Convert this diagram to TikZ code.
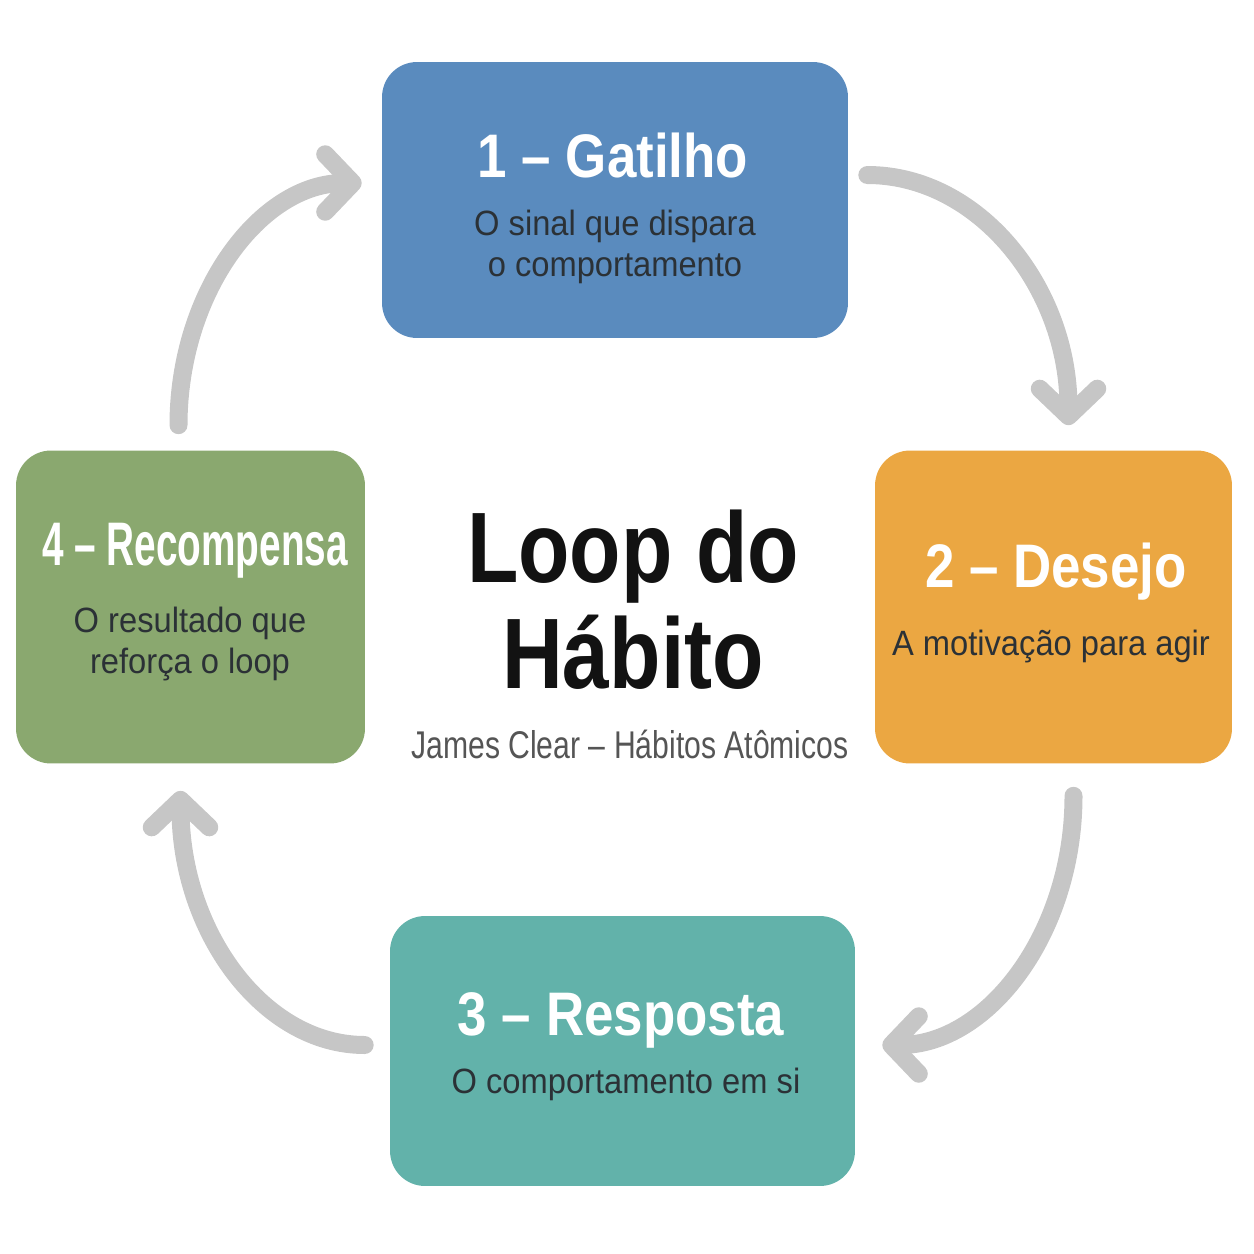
\documentclass[tikz,border=0pt]{standalone}
\usepackage{fontspec}
\setmainfont{Liberation Sans}
\newfontfamily\headfont[FakeStretch=0.86]{Liberation Sans}
\newfontfamily\narrowfont[FakeStretch=0.63]{Liberation Sans}
\newfontfamily\subfont[FakeStretch=0.93]{Liberation Sans}
\newfontfamily\bigfont[FakeStretch=0.84]{Liberation Sans}
\newfontfamily\creditfont[FakeStretch=0.78]{Liberation Sans}
\usetikzlibrary{arrows.meta,positioning}
\definecolor{gatblue}{HTML}{5A8BBE}
\definecolor{desorange}{HTML}{EBA742}
\definecolor{resteal}{HTML}{62B2AA}
\definecolor{recgreen}{HTML}{8AA86F}
\definecolor{arrowgray}{HTML}{C6C6C6}
\definecolor{subgray}{HTML}{2B3136}
\definecolor{creditgray}{HTML}{555555}

\begin{document}
\begin{tikzpicture}[
  x=0.02cm,y=-0.02cm,
  box/.style={rounded corners=0.7cm,inner sep=0pt},
  head/.style={anchor=base,text=white,font=\headfont\bfseries\fontsize{35}{40}\selectfont},
  sub/.style={anchor=base,align=center,text=subgray,font=\subfont\fontsize{20}{23}\selectfont},
  arrow/.style={-{Straight Barb[length=0.55cm,width=1.15cm,round]},line width=0.36cm,line cap=round,draw=arrowgray}
]
\useasboundingbox (0,0) rectangle (1254,1254);
\node[box,fill=gatblue,minimum width=9.32cm,minimum height=5.52cm] (gatilho) at (615,200) {};
\node[box,fill=desorange,minimum width=7.14cm,minimum height=6.26cm] (desejo) at (1053.5,607) {};
\node[box,fill=resteal,minimum width=9.3cm,minimum height=5.4cm] (resposta) at (622.5,1051) {};
\node[box,fill=recgreen,minimum width=6.98cm,minimum height=6.26cm] (recompensa) at (190.5,607) {};

\node[head] (gatilhoH) at (613,177) {1 – Gatilho};
\node[sub] (gatilhoS) at (615,276) {O sinal que dispara\\o comportamento};
\node[head] (desejoH) at (1056,587) {2 – Desejo};
\node[sub] (desejoS) at (1051,655) {A motivação para agir};
\node[head] (respostaH) at (621,1035) {3 – Resposta};
\node[sub] (respostaS) at (626,1093) {O comportamento em si};
\node[head,font=\narrowfont\bfseries\fontsize{35}{40}\selectfont] (recompensaH) at (195,565) {4 – Recompensa};
\node[sub] (recompensaS) at (190,673) {O resultado que\\reforça o loop};

\node[anchor=base,align=center,text=black!93,font=\bigfont\bfseries\fontsize{57}{60}\selectfont] (titulo) at (633,688) {Loop do\\Hábito};
\node[anchor=base,text=creditgray,font=\creditfont\fontsize{22}{26}\selectfont] (credito) at (630,758) {James Clear – Hábitos Atômicos};

\draw[arrow] ([shift={(19,-25)}]gatilho.east) .. controls +(111,0) and +(0,-138) .. ([shift={(15,-25)}]desejo.north);
\draw[arrow] ([shift={(20,32)}]desejo.south) .. controls +(0,138) and +(105,0) .. ([shift={(27,-6)}]resposta.east);
\draw[arrow] ([shift={(-25,-6)}]resposta.west) .. controls +(-102,0) and +(0,140) .. ([shift={(-10,27)}]recompensa.south);
\draw[arrow] ([shift={(-12,-25)}]recompensa.north) .. controls +(0,-133) and +(-101,0) .. ([shift={(-20,-17)}]gatilho.west);
\end{tikzpicture}
\end{document}
